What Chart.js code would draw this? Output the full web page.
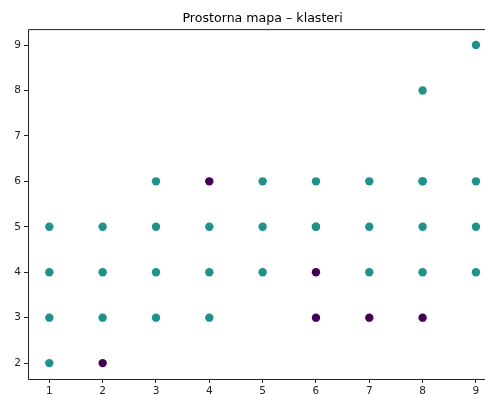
<!DOCTYPE html>
<html>
<head>
<meta charset="utf-8">
<script src="https://cdn.jsdelivr.net/npm/chart.js@4/dist/chart.umd.min.js"></script>
<style>
  html, body { margin: 0; padding: 0; background: #fff; }
  #wrap { width: 485px; height: 394px; }
</style>
</head>
<body>
<div id="wrap"><canvas id="mapa"></canvas></div>
<script>
// Podaci – klaster 0 (tamni) i klaster 1 (tirkizni)
const naslov = 'Prostorna mapa – klasteri';
const klaster1X = [1, 1, 1, 1, 2, 2, 2, 3, 3, 3, 3, 4, 4, 4, 5, 5, 5, 6, 6, 6, 7, 7, 7, 8, 8, 8, 8, 8, 9, 9, 9, 9];
const klaster1Y = [2, 3, 4, 5, 3, 4, 5, 3, 4, 5, 6, 3, 4, 5, 4, 5, 6, 5, 5, 6, 4, 5, 6, 4, 5, 6, 6, 8, 4, 5, 6, 9];
const klaster0X = [2, 4, 6, 6, 7, 8];
const klaster0Y = [2, 6, 4, 3, 3, 3];
const xTicks = [1, 2, 3, 4, 5, 6, 7, 8, 9];
const yTicks = [2, 3, 4, 5, 6, 7, 8, 9];

const toPoints = (xs, ys) => xs.map((x, i) => ({ x: x, y: ys[i] }));

const titleFont = { family: 'DejaVu Sans', size: 12.6, weight: 'normal' };
const tickFont = { family: 'DejaVu Sans', size: 10.5 };

// matplotlib-style spines (left, top, bottom) + naslov centriran na cijeloj osi (0.6–9.4)
const spines = {
  id: 'spines',
  afterDraw(chart) {
    const a = chart.chartArea;
    const c = chart.ctx;
    c.save();
    c.strokeStyle = '#222';
    c.lineWidth = 1;
    c.beginPath();
    c.moveTo(a.left + 0.5, a.bottom + 0.5);
    c.lineTo(a.left + 0.5, a.top + 0.5);
    c.lineTo(a.right + 2, a.top + 0.5);
    c.moveTo(a.left + 0.5, a.bottom + 0.5);
    c.lineTo(a.right + 2, a.bottom + 0.5);
    c.stroke();

    const t = chart.titleBlock;
    c.fillStyle = '#000';
    c.font = titleFont.size + 'px "' + titleFont.family + '"';
    c.textAlign = 'center';
    c.textBaseline = 'middle';
    c.fillText(naslov, chart.scales.x.getPixelForValue(5), t.top + 11 + titleFont.size * 0.6);
    c.restore();
  }
};

new Chart(document.getElementById('mapa').getContext('2d'), {
  type: 'scatter',
  data: {
    datasets: [
      {
        label: 'klaster 1',
        data: toPoints(klaster1X, klaster1Y),
        backgroundColor: '#21918c',
        borderWidth: 0,
        pointRadius: 4.2
      },
      {
        label: 'klaster 0',
        data: toPoints(klaster0X, klaster0Y),
        backgroundColor: '#440154',
        borderWidth: 0,
        pointRadius: 4.2
      }
    ]
  },
  options: {
    responsive: true,
    maintainAspectRatio: false,
    animation: false,
    layout: { padding: 0, autoPadding: false },
    plugins: {
      legend: { display: false },
      tooltip: { enabled: false },
      title: {
        display: true,
        text: naslov,
        color: 'rgba(0,0,0,0)',
        font: titleFont,
        padding: { top: 10, bottom: 4 }
      }
    },
    scales: {
      x: {
        type: 'linear',
        min: 0.6,
        max: 9.17,
        afterBuildTicks: s => { s.ticks = xTicks.map(v => ({ value: v })); },
        afterFit: s => { s.height = 15; s.paddingLeft = 0; s.paddingRight = 0; },
        grid: { drawOnChartArea: false, drawTicks: true, tickLength: 4, tickColor: '#222' },
        border: { display: false },
        ticks: { color: '#222', font: tickFont, padding: 2, maxRotation: 0 }
      },
      y: {
        type: 'linear',
        min: 1.65,
        max: 9.35,
        afterBuildTicks: s => { s.ticks = yTicks.map(v => ({ value: v })); },
        afterFit: s => { s.width = 28; s.paddingTop = 0; s.paddingBottom = 0; },
        grid: { drawOnChartArea: false, drawTicks: true, tickLength: 4, tickColor: '#222' },
        border: { display: false },
        ticks: { color: '#222', font: tickFont, padding: 3 }
      }
    }
  },
  plugins: [spines]
});
</script>
</body>
</html>
